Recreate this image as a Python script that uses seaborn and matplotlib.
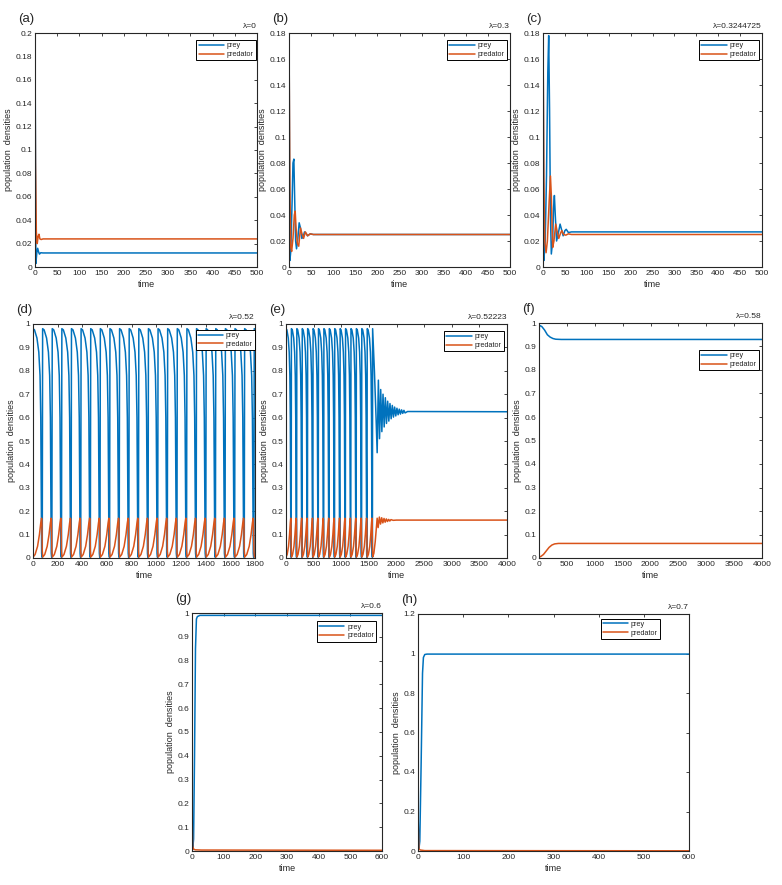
import matplotlib
matplotlib.use("Agg")
import matplotlib.pyplot as plt
import matplotlib.transforms as mtransforms
from matplotlib.ticker import FormatStrFormatter, MultipleLocator
import seaborn as sns

PREY_COLOR = "#0072BD"
PRED_COLOR = "#D95319"

# ---- (a) lambda = 0 ----
a_t_prey = [0, 2, 4, 6, 8, 10, 13, 18, 500]
a_prey = [0.2, 0.003, 0.012, 0.016, 0.013, 0.011, 0.0122, 0.012, 0.012]
a_t_pred = [0, 1, 3, 5, 7, 9, 11, 14, 18, 500]
a_pred = [0.18, 0.09, 0.03, 0.02, 0.026, 0.028, 0.024, 0.0235, 0.024, 0.024]

# ---- (b) lambda = 0.3 ----
b_t_prey = [0, 2, 4, 7, 9, 11, 13, 15, 17, 20, 23, 26, 29, 32, 35, 38, 42, 48, 55, 500]
b_prey = [0.2, 0.005, 0.012, 0.05, 0.08, 0.083, 0.05, 0.02, 0.014, 0.022, 0.034,
          0.03, 0.022, 0.023, 0.027, 0.026, 0.024, 0.0255, 0.025, 0.025]
b_t_pred = [0, 2, 4, 6, 9, 12, 14, 16, 19, 22, 26, 29, 33, 37, 42, 48, 55, 500]
b_pred = [0.18, 0.06, 0.015, 0.012, 0.022, 0.04, 0.043, 0.03, 0.018, 0.016, 0.03,
          0.026, 0.022, 0.027, 0.024, 0.0255, 0.025, 0.025]

# ---- (c) lambda = 0.3244725 ----
c_t_prey = [0, 2, 5, 8, 11, 13, 15, 17, 19, 22, 24, 26, 28, 31, 35, 39, 43, 46,
            50, 53, 58, 65, 500]
c_prey = [0.2, 0.005, 0.02, 0.07, 0.15, 0.178, 0.12, 0.04, 0.01, 0.02, 0.045, 0.055,
          0.04, 0.02, 0.026, 0.033, 0.028, 0.024, 0.028, 0.029, 0.0265, 0.027, 0.027]
c_t_pred = [0, 2, 4, 7, 10, 14, 17, 19, 22, 25, 29, 32, 36, 40, 43, 47, 52, 58, 65, 500]
c_pred = [0.18, 0.07, 0.02, 0.011, 0.02, 0.05, 0.07, 0.055, 0.015, 0.02, 0.033, 0.028,
          0.022, 0.026, 0.028, 0.025, 0.0245, 0.0255, 0.025, 0.025]

# ---- (d) lambda = 0.52 : limit cycle, one cycle shape ----
d_starts = [-3, 75, 153, 231, 309, 387, 465, 543, 621, 699, 777, 855, 933, 1011,
            1089, 1167, 1245, 1323, 1401, 1479, 1557, 1635, 1713, 1791]
d_prey_offsets = [0, 3, 15, 35, 50, 60, 66, 70, 73, 76]
d_prey_shape = [0.005, 0.98, 0.975, 0.94, 0.88, 0.78, 0.6, 0.3, 0.02, 0.003]
d_pred_offsets = [0, 4, 20, 40, 55, 66, 72, 75, 77]
d_pred_shape = [0.03, 0.004, 0.015, 0.05, 0.10, 0.15, 0.17, 0.165, 0.08]

# ---- (e) lambda = 0.52223 : cycles then damped to equilibrium ----
e_starts = [-4, 94, 192, 290, 388, 486, 584, 682, 780, 878, 976, 1074, 1172,
            1270, 1368, 1466]
e_prey_offsets = [0, 4, 20, 45, 62, 74, 82, 88, 92, 96]
e_prey_shape = [0.005, 0.98, 0.975, 0.94, 0.88, 0.78, 0.6, 0.3, 0.02, 0.003]
e_pred_offsets = [0, 5, 25, 50, 68, 82, 90, 94, 96]
e_pred_shape = [0.03, 0.004, 0.015, 0.05, 0.10, 0.15, 0.17, 0.165, 0.08]
e_tail_t_prey = [1564, 1568, 1600, 1630, 1650, 1672, 1693, 1714, 1735, 1756, 1777,
                 1798, 1819, 1840, 1861, 1882, 1903, 1924, 1945, 1966, 1987, 2008,
                 2029, 2050, 2071, 2092, 2113, 2134, 2155, 2200, 4000]
e_tail_prey = [0.005, 0.98, 0.8, 0.6, 0.45, 0.76, 0.51, 0.72, 0.54, 0.70, 0.56,
               0.685, 0.575, 0.67, 0.585, 0.66, 0.595, 0.652, 0.602, 0.645, 0.607,
               0.64, 0.612, 0.636, 0.615, 0.633, 0.618, 0.631, 0.62, 0.626, 0.625]
e_tail_t_pred = [1564, 1570, 1590, 1615, 1635, 1650, 1668, 1690, 1711, 1732, 1753,
                 1774, 1795, 1816, 1837, 1858, 1879, 1900, 1940, 2000, 4000]
e_tail_pred = [0.03, 0.005, 0.02, 0.07, 0.13, 0.17, 0.13, 0.175, 0.145, 0.172, 0.15,
               0.169, 0.153, 0.167, 0.156, 0.165, 0.158, 0.164, 0.161, 0.162, 0.162]

# ---- (f) lambda = 0.58 ----
f_t_prey = [0, 3, 8, 50, 100, 150, 200, 250, 300, 400, 4000]
f_prey = [0.2, 0.95, 0.99, 0.985, 0.97, 0.95, 0.94, 0.934, 0.931, 0.93, 0.93]
f_t_pred = [0, 5, 30, 80, 130, 180, 230, 280, 350, 4000]
f_pred = [0.18, 0.005, 0.006, 0.015, 0.03, 0.045, 0.055, 0.06, 0.062, 0.062]

# ---- (g) lambda = 0.6 ----
g_t_prey = [0, 2, 5, 8, 11, 14, 17, 25, 600]
g_prey = [0.2, 0.005, 0.05, 0.4, 0.85, 0.975, 0.985, 0.99, 0.99]
g_t_pred = [0, 2, 5, 10, 30, 600]
g_pred = [0.18, 0.02, 0.008, 0.005, 0.004, 0.003]

# ---- (h) lambda = 0.7 ----
h_t_prey = [0, 2, 4, 7, 10, 12, 15, 20, 600]
h_prey = [0.2, 0.01, 0.05, 0.45, 0.9, 0.98, 0.995, 0.997, 0.997]
h_t_pred = [0, 2, 5, 15, 600]
h_pred = [0.18, 0.01, 0.005, 0.002, 0.001]


def cycles(starts, offsets, shape):
    t = [s + o for s in starts for o in offsets]
    y = [v for s in starts for v in shape]
    return t, y


d_t_prey, d_prey = cycles(d_starts, d_prey_offsets, d_prey_shape)
d_t_pred, d_pred = cycles(d_starts, d_pred_offsets, d_pred_shape)
e_t_prey, e_prey = cycles(e_starts, e_prey_offsets, e_prey_shape)
e_t_pred, e_pred = cycles(e_starts, e_pred_offsets, e_pred_shape)
e_t_prey += e_tail_t_prey
e_prey += e_tail_prey
e_t_pred += e_tail_t_pred
e_pred += e_tail_pred

sns.set_theme(style="white")
plt.rcParams["font.family"] = ["Liberation Sans Narrow", "Liberation Sans", "DejaVu Sans"]

W, H = 782, 885
fig = plt.figure(figsize=(W / 100, H / 100), dpi=100)


def box(left, top, right, bottom):
    return [left / W, 1 - bottom / H, (right - left) / W, (bottom - top) / H]


panels = [
    # tag, lambda text, position, prey, pred, xlim, xstep, ylim, ystep, legend anchor
    ("(a)", "λ=0", box(35, 33, 257, 267), (a_t_prey, a_prey), (a_t_pred, a_pred),
     500, 50, 0.2, 0.02, (0.995, 0.97)),
    ("(b)", "λ=0.3", box(289, 33, 510, 267), (b_t_prey, b_prey), (b_t_pred, b_pred),
     500, 50, 0.18, 0.02, (0.985, 0.97)),
    ("(c)", "λ=0.3244725", box(543, 33, 762, 267), (c_t_prey, c_prey), (c_t_pred, c_pred),
     500, 50, 0.18, 0.02, (0.985, 0.97)),
    ("(d)", "λ=0.52", box(33, 324, 255, 558), (d_t_prey, d_prey), (d_t_pred, d_pred),
     1800, 200, 1.0, 0.1, (1.0, 0.975)),
    ("(e)", "λ=0.52223", box(286, 324, 507, 558), (e_t_prey, e_prey), (e_t_pred, e_pred),
     4000, 500, 1.0, 0.1, (0.985, 0.97)),
    ("(f)", "λ=0.58", box(539, 323, 762, 558), (f_t_prey, f_prey), (f_t_pred, f_pred),
     4000, 500, 1.0, 0.1, (0.985, 0.885)),
    ("(g)", "λ=0.6", box(192, 613, 382, 851), (g_t_prey, g_prey), (g_t_pred, g_pred),
     600, 100, 1.0, 0.1, (0.97, 0.965)),
    ("(h)", "λ=0.7", box(418, 614, 689, 851), (h_t_prey, h_prey), (h_t_pred, h_pred),
     600, 100, 1.2, 0.2, (0.893, 0.98)),
]

for tag, lam, pos, prey, pred, xmax, xstep, ymax, ystep, anchor in panels:
    ax = fig.add_axes(pos)
    sns.lineplot(x=prey[0], y=prey[1], ax=ax, color=PREY_COLOR, linewidth=1.1,
                 label="prey", sort=False)
    sns.lineplot(x=pred[0], y=pred[1], ax=ax, color=PRED_COLOR, linewidth=1.1,
                 label="predator", sort=False)
    ax.set_xlim(0, xmax)
    ax.set_ylim(0, ymax)
    ax.xaxis.set_major_locator(MultipleLocator(xstep))
    ax.yaxis.set_major_locator(MultipleLocator(ystep))
    ax.yaxis.set_major_formatter(FormatStrFormatter("%g"))
    ax.xaxis.set_major_formatter(FormatStrFormatter("%g"))
    ax.tick_params(direction="in", top=True, right=True, length=2.5, width=0.6,
                   labelsize=6, pad=2, colors="#262626")
    for sp in ax.spines.values():
        sp.set_linewidth(0.8)
        sp.set_color("#262626")
    ax.set_xlabel("time", fontsize=6.5, labelpad=2)
    ax.set_ylabel("population  densities", fontsize=6.5, labelpad=2)
    leg = ax.legend(loc="upper right", bbox_to_anchor=anchor, fontsize=5.2,
                    frameon=True, fancybox=False, framealpha=1, edgecolor="black",
                    handlelength=3.5, borderpad=0.3, labelspacing=0.25,
                    handletextpad=0.4, borderaxespad=0)
    leg.get_frame().set_linewidth(0.7)
    ax.text(1.0, 1.012, lam, transform=ax.transAxes, ha="right", va="bottom",
            fontsize=6)
    tr = mtransforms.offset_copy(ax.transAxes, fig=fig, x=-17, y=14, units="dots")
    ax.text(0, 1, tag, transform=tr, ha="left", va="center", fontsize=9.5)

plt.savefig("out.png", dpi=100)
